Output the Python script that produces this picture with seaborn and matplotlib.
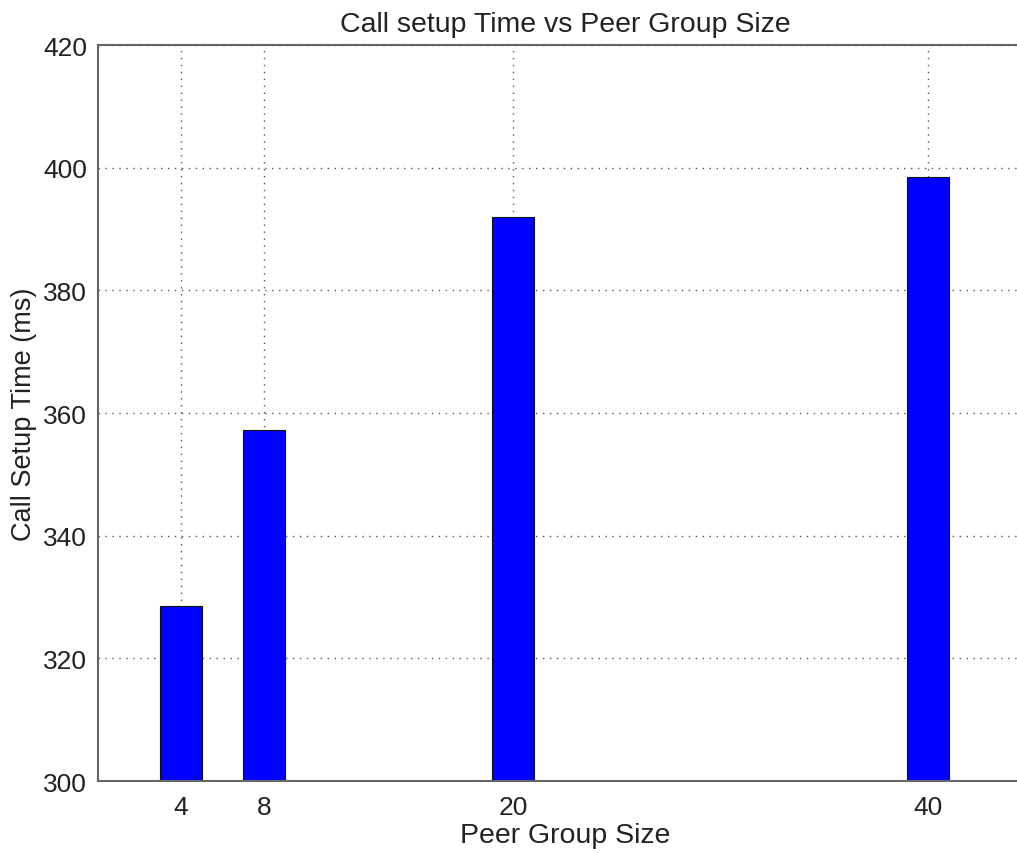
import matplotlib
matplotlib.use("Agg")
import matplotlib.pyplot as plt
import seaborn as sns

# Data
group_sizes = [4, 8, 20, 40]
setup_times = [328.6, 357.3, 392.0, 398.4]
y_ticks = [300, 320, 340, 360, 380, 400, 420]

sns.set_style("white")
plt.rcParams['font.family'] = ['Liberation Sans', 'DejaVu Sans']

fig = plt.figure(figsize=(10.17, 8.54), dpi=100)
# axes runs slightly past the right edge of the picture, like the cropped original
ax = fig.add_axes([98 / 1017, 1 - 782 / 854, (1032 - 98) / 1017, (782 - 46) / 854])

sns.barplot(x=group_sizes, y=setup_times, native_scale=True, color='#0000ff',
            saturation=1, width=0.5, edgecolor='#111111', linewidth=0.8, ax=ax)

ax.set_xlim(0, 45)
ax.set_ylim(300, 420)
ax.set_xticks(group_sizes)
ax.set_xticklabels([str(v) for v in group_sizes])
ax.set_yticks(y_ticks)

ax.set_axisbelow(True)
ax.grid(True, linestyle=(0, (1, 4)), color='#555555', linewidth=1.0)

for side in ['left', 'top', 'bottom']:
    ax.spines[side].set_color('#666666')
    ax.spines[side].set_linewidth(1.5)
ax.spines['right'].set_visible(False)

ax.tick_params(axis='both', direction='in', length=0, labelsize=19, pad=8,
               colors='#222222')
ax.tick_params(axis='x', pad=10)

ax.set_title('Call setup Time vs Peer Group Size', fontsize=20.5, pad=10, color='#222222')
ax.set_xlabel('Peer Group Size', fontsize=20.5, labelpad=2, color='#222222')
ax.set_ylabel('Call Setup Time (ms)', fontsize=19.5, labelpad=4, color='#222222')

fig.savefig('out.png', dpi=100)
